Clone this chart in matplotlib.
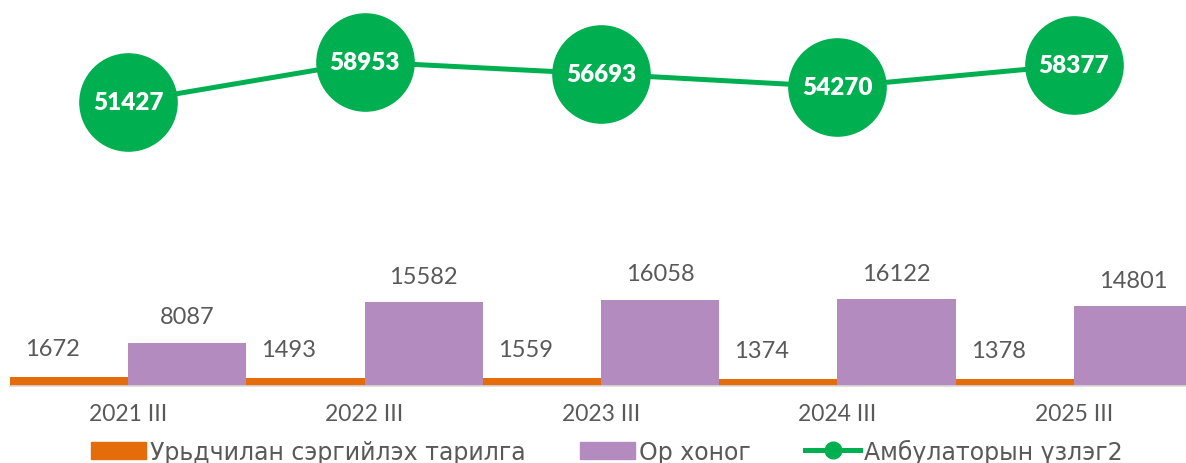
import matplotlib
matplotlib.use("Agg")
import matplotlib.pyplot as plt
from matplotlib.patches import Patch
from matplotlib.lines import Line2D
import numpy as np

categories = ["2021 III", "2022 III", "2023 III", "2024 III", "2025 III"]
vaccination = [1672, 1493, 1559, 1374, 1378]
bed_days = [8087, 15582, 16058, 16122, 14801]
outpatient = [51427, 58953, 56693, 54270, 58377]

series_names = ["Урьдчилан сэргийлэх тарилга", "Ор хоног", "Амбулаторын үзлэг2"]

ORANGE = "#E46C0A"
PURPLE = "#B38BBF"
GREEN = "#00B050"
GRAY = "#595959"

W, H = 1186, 464
fig = plt.figure(figsize=(W / 100, H / 100), dpi=100)
fig.patch.set_facecolor("white")

ax = fig.add_axes([10 / W, (H - 387) / H, 1182 / W, 387 / H])
x = np.arange(len(categories))
bw = 0.5
ax.bar(x - bw / 2, vaccination, width=bw, color=ORANGE, zorder=2)
ax.bar(x + bw / 2, bed_days, width=bw, color=PURPLE, zorder=2)
ax.set_xlim(-0.5, 4.5)
ax.set_ylim(0, 71980)

for xi, v in zip(x, vaccination):
    ax.annotate(str(v), (xi - bw / 2, v), xytext=(-12, 13), textcoords="offset points",
                ha="center", va="bottom", fontsize=17, color=GRAY, family="Lato")
for xi, v in zip(x, bed_days):
    ax.annotate(str(v), (xi + bw / 2, v), xytext=(0, 11), textcoords="offset points",
                ha="center", va="bottom", fontsize=17, color=GRAY, family="Lato")

for s in ["top", "right", "left"]:
    ax.spines[s].set_visible(False)
ax.spines["bottom"].set_color("#D9D9D9")
ax.spines["bottom"].set_linewidth(1.2)
ax.set_yticks([])
ax.set_xticks(x)
ax.set_xticklabels(categories, fontsize=16.5, color=GRAY, family="Lato")
ax.tick_params(axis="x", length=0, pad=12)
ax.set_facecolor("none")

ax2 = ax.twinx()
ax2.set_ylim(-1974, 70782)
ax2.plot(x, outpatient, color=GREEN, lw=3.6, marker="o", markersize=70,
         markerfacecolor=GREEN, markeredgecolor=GREEN, clip_on=False, zorder=3)
for xi, v in zip(x, outpatient):
    ax2.text(xi, v, str(v), ha="center", va="center", fontsize=17.5, color="white",
             fontweight="heavy", family="Lato", zorder=4)
ax2.set_yticks([])
for s in ax2.spines.values():
    s.set_visible(False)

handles = [Patch(color=ORANGE), Patch(color=PURPLE),
           Line2D([0], [0], color=GREEN, lw=3.6, marker="o", markersize=12)]
leg = fig.legend(handles, series_names, loc="center", bbox_to_anchor=(0.512, (H - 452) / H),
                 ncol=3, frameon=False, handlelength=2.3, handleheight=0.7,
                 handletextpad=0.2, columnspacing=2.3, prop={"family": "DejaVu Sans", "size": 17})
for t in leg.get_texts():
    t.set_color(GRAY)

fig.savefig("out.png", dpi=100)
